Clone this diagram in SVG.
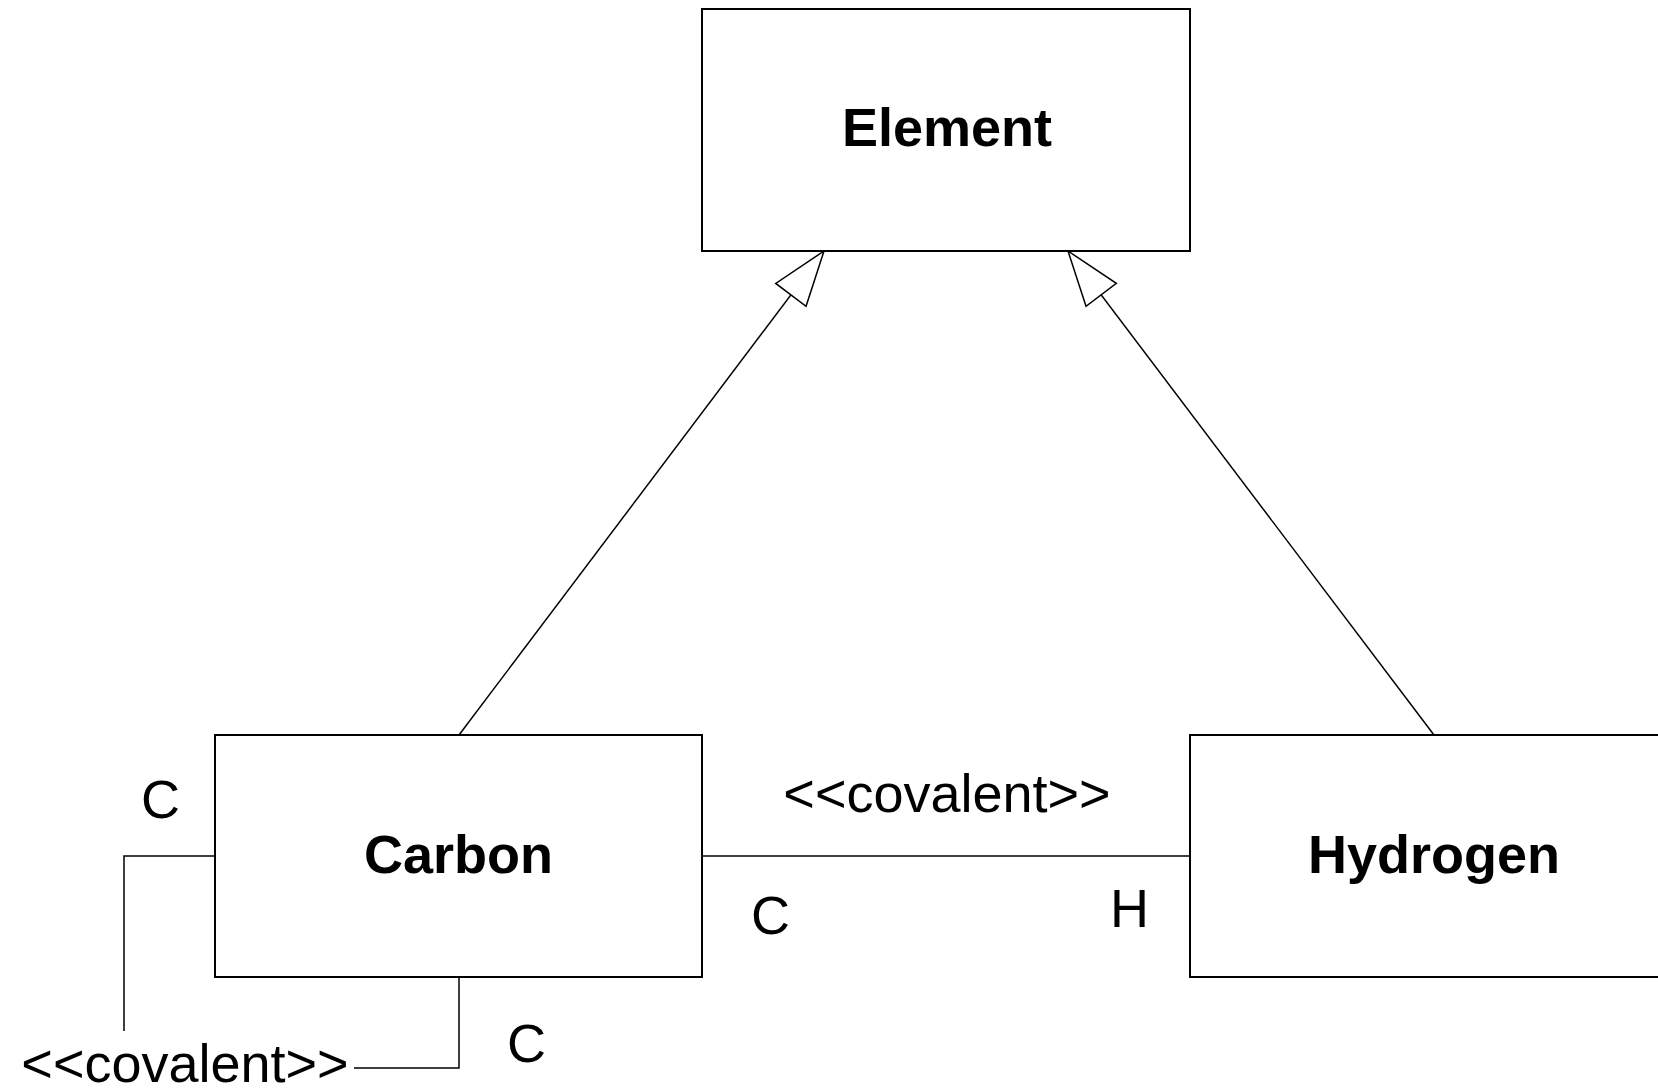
<svg xmlns="http://www.w3.org/2000/svg" width="1658" height="1090" viewBox="0 0 1658 1090">
  <style>
    .box { fill: #ffffff; stroke: #000000; stroke-width: 2; }
    .title { font-family: "Liberation Sans", Arial, sans-serif; font-weight: bold; font-size: 54px; fill: #000000; text-anchor: middle; }
    .lbl { font-family: "Liberation Sans", Arial, sans-serif; font-size: 54px; fill: #000000; }
    .conn { fill: none; stroke: #000000; stroke-width: 1.5; }
  </style>
  <defs>
    <marker id="gen" markerUnits="userSpaceOnUse" viewBox="-58 -22 60 44" markerWidth="60" markerHeight="44" refX="0" refY="0" orient="auto">
      <path d="M0,0 L-55,-19 L-55,19 Z" fill="#ffffff" stroke="#000000" stroke-width="1.5" stroke-linejoin="miter"/>
    </marker>
  </defs>
  <rect width="1658" height="1090" fill="#ffffff"/>

  <g id="connectors">
    <line class="conn" x1="459" y1="735" x2="824" y2="251" marker-end="url(#gen)"/>
    <line class="conn" x1="1434" y1="735" x2="1068" y2="251" marker-end="url(#gen)"/>
    <line class="conn" x1="702" y1="856" x2="1190" y2="856"/>
    <polyline class="conn" points="215,856 124,856 124,1031"/>
    <polyline class="conn" points="459,977 459,1068 354,1068"/>
    <text class="lbl" x="947" y="812" text-anchor="middle">&lt;&lt;covalent&gt;&gt;</text>
    <text class="lbl" x="751" y="934">C</text>
    <text class="lbl" x="1110" y="927">H</text>
    <text class="lbl" x="141" y="818">C</text>
    <text class="lbl" x="507" y="1062">C</text>
    <text class="lbl" x="185" y="1082" text-anchor="middle">&lt;&lt;covalent&gt;&gt;</text>
  </g>

  <g id="element">
    <rect class="box" x="702" y="9" width="488" height="242"/>
    <text class="title" x="947" y="146">Element</text>
  </g>
  <g id="carbon">
    <rect class="box" x="215" y="735" width="487" height="242"/>
    <text class="title" x="458.5" y="873">Carbon</text>
  </g>
  <g id="hydrogen">
    <rect class="box" x="1190" y="735" width="488" height="242"/>
    <text class="title" x="1434" y="873">Hydrogen</text>
  </g>
</svg>
